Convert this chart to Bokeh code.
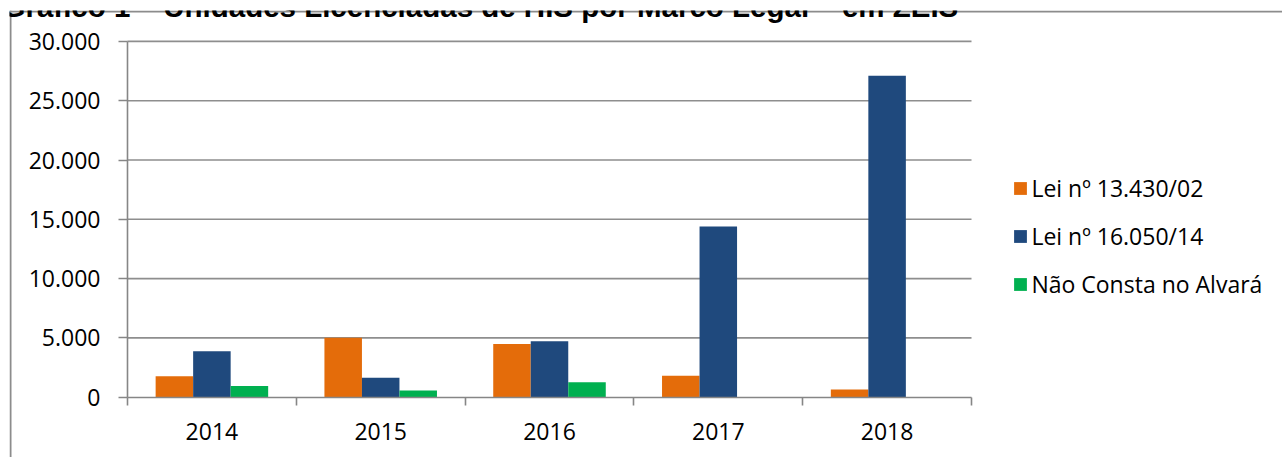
from bokeh.plotting import figure
from bokeh.models import (ColumnDataSource, Range1d, LinearAxis, FixedTicker,
                          Legend, LegendItem, Span, Label)
from bokeh.transform import dodge
from bokeh.embed import file_html
from bokeh.resources import INLINE

# ---------------- data ----------------
years = ["2014", "2015", "2016", "2017", "2018"]
lei_13430 = [1770, 5020, 4490, 1800, 650]
lei_16050 = [3880, 1630, 4720, 14400, 27100]
nao_consta = [950, 560, 1270, 0, 0]
series_names = ["Lei nº 13.430/02", "Lei nº 16.050/14", "Não Consta no Alvará"]
y_ticks = [0, 5000, 10000, 15000, 20000, 25000, 30000]
title_text = "Gráfico 1 – Unidades Licenciadas de HIS por Marco Legal – em ZEIS"

# ---------------- styling ----------------
colors = ["#E46C0A", "#1F497D", "#00B050"]
axis_color = "#868686"
grid_color = "#8E8E8E"
border_color = "#8C8C8C"
FONT = "Open Sans"
FSIZE = "23px"

SHIFT_UP = 30
W, H = 1282, 457 + SHIFT_UP
MB_LEFT, MB_TOP = 9, 10 + SHIFT_UP
frame_w = W - MB_LEFT
frame_h = H - MB_TOP
# pixel placement of the plotting region inside the frame
px_x0, px_per_cat = 127.0 - MB_LEFT, 168.8   # x=0 at page x 127
px_y0, px_span = 60.3, 355.8                 # y=0 at 60.3px above frame bottom, 30000 spans 355.8px
ncat = len(years)
ymax = y_ticks[-1]

x_range = Range1d(-px_x0 / px_per_cat, (frame_w - px_x0) / px_per_cat)
y_range = Range1d(-px_y0 / px_span * ymax, (frame_h - px_y0) / px_span * ymax)

p = figure(width=W, height=H, x_range=x_range, y_range=y_range,
           output_backend="svg", toolbar_location=None, title=None,
           x_axis_location=None, y_axis_location=None,
           min_border_left=MB_LEFT, min_border_right=0,
           min_border_top=MB_TOP, min_border_bottom=0,
           outline_line_color=None, background_fill_color="white",
           border_fill_color="white", margin=(-SHIFT_UP, 0, 0, 0))
p.grid.visible = False

centers = [i + 0.5 for i in range(ncat)]
src = ColumnDataSource(dict(x=centers, s0=lei_13430, s1=lei_16050, s2=nao_consta))

# gridlines (within plotting region only)
p.segment(x0=0, x1=ncat, y0=y_ticks[1:], y1=y_ticks[1:], line_color=grid_color, line_width=1.6)

bw = 1.0 / (3 + 1.5)
renderers = []
for k, (col, color) in enumerate(zip(["s0", "s1", "s2"], colors)):
    r = p.vbar(x=dodge("x", (k - 1) * bw, range=p.x_range), top=col, bottom=0, width=bw,
               source=src, fill_color=color, line_color=None)
    renderers.append(r)

# axes
yax = LinearAxis(fixed_location=0, bounds=(0, ymax),
                 ticker=FixedTicker(ticks=y_ticks, minor_ticks=[]),
                 major_label_overrides={t: f"{t:,}".replace(",", ".") for t in y_ticks},
                 axis_line_color=axis_color, axis_line_width=1.6,
                 major_tick_line_color=axis_color, major_tick_line_width=1.6,
                 major_tick_out=9, major_tick_in=0, minor_tick_out=0, minor_tick_in=0,
                 major_label_standoff=18, major_label_text_font=FONT,
                 major_label_text_font_size=FSIZE, major_label_text_color="black")
p.add_layout(yax, "left")

xax = LinearAxis(fixed_location=0, bounds=(0, ncat),
                 ticker=FixedTicker(ticks=centers, minor_ticks=list(range(ncat + 1))),
                 major_label_overrides={c: y for c, y in zip(centers, years)},
                 axis_line_color=axis_color, axis_line_width=1.6,
                 major_tick_out=0, major_tick_in=0,
                 minor_tick_line_color=axis_color, minor_tick_line_width=1.6,
                 minor_tick_out=8, minor_tick_in=0,
                 major_label_standoff=18, major_label_text_font=FONT,
                 major_label_text_font_size=FSIZE, major_label_text_color="black")
p.add_layout(xax, "below")

# chart border (top and left edges visible), 1px inside the frame edge
one_px_x = (x_range.end - x_range.start) / frame_w
one_px_y = (y_range.end - y_range.start) / frame_h
p.add_layout(Span(location=x_range.start + one_px_x, dimension="height",
                  line_color=border_color, line_width=2))
p.add_layout(Span(location=y_range.end - one_px_y, dimension="width",
                  line_color=border_color, line_width=2))

# legend (location = bottom-left corner, frame-relative px)
legend = Legend(items=[LegendItem(label=n, renderers=[r]) for n, r in zip(series_names, renderers)],
                location=(1012.4 - MB_LEFT, 157.5), orientation="vertical",
                padding=0, margin=0, spacing=16, glyph_width=16, glyph_height=16,
                label_height=31, label_standoff=3, label_text_font=FONT,
                label_text_font_size=FSIZE, label_text_color="black",
                border_line_color=None, background_fill_alpha=0)
p.add_layout(legend)

# title (partly cut off at the top, as in the source)
p.add_layout(Label(x=-7, y=frame_h + 4.5, x_units="screen", y_units="screen", text=title_text,
                   text_font="Liberation Sans", text_font_style="bold", text_font_size="29.5px",
                   text_baseline="alphabetic", text_color="black"))

open("out.html", "w").write(file_html(p, INLINE))
